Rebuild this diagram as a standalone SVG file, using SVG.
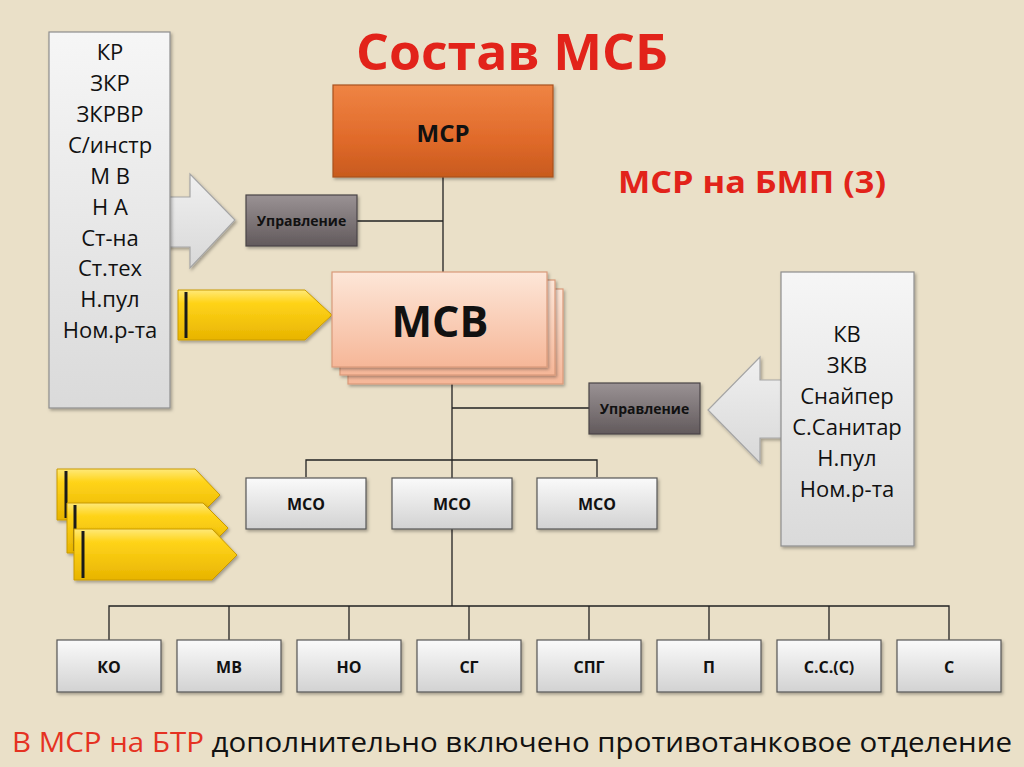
<svg xmlns="http://www.w3.org/2000/svg" width="1024" height="767" viewBox="0 0 1024 767">
<defs>
<linearGradient id="gGray" x1="0" y1="0" x2="0" y2="1"><stop offset="0" stop-color="#FAFAFA"/><stop offset="1" stop-color="#D2D2D2"/></linearGradient>
<linearGradient id="gList" x1="0" y1="0" x2="0" y2="1"><stop offset="0" stop-color="#F6F6F6"/><stop offset="1" stop-color="#DADADA"/></linearGradient>
<linearGradient id="gArrow" x1="0" y1="0" x2="0" y2="1"><stop offset="0" stop-color="#F0F0F0"/><stop offset="1" stop-color="#D8D8D8"/></linearGradient>
<linearGradient id="gOrange" x1="0" y1="0" x2="0" y2="1"><stop offset="0" stop-color="#EF8444"/><stop offset="0.6" stop-color="#E06A2A"/><stop offset="1" stop-color="#C85A1E"/></linearGradient>
<linearGradient id="gPeach" x1="0" y1="0" x2="0" y2="1"><stop offset="0" stop-color="#FDE6D8"/><stop offset="1" stop-color="#F6B798"/></linearGradient>
<linearGradient id="gDark" x1="0" y1="0" x2="0" y2="1"><stop offset="0" stop-color="#9A9294"/><stop offset="1" stop-color="#625A5C"/></linearGradient>
<linearGradient id="gYellow" x1="0" y1="0" x2="0" y2="1"><stop offset="0" stop-color="#FFE978"/><stop offset="0.25" stop-color="#FFD41A"/><stop offset="1" stop-color="#E8B400"/></linearGradient>
<filter id="sh" x="-10%" y="-10%" width="130%" height="130%"><feDropShadow dx="1.5" dy="2" stdDeviation="1.5" flood-color="#000" flood-opacity="0.3"/></filter>
</defs>
<style>
.t{font-family:"Open Sans","Noto Sans",sans-serif;fill:#111}
.b{font-weight:bold}
.box{fill:url(#gGray);stroke:#555;stroke-width:1.2}
.lst{fill:url(#gList);stroke:#8E8E8E;stroke-width:1.2}
.arr{fill:url(#gArrow);stroke:#A5A5A5;stroke-width:1.2}
.yel{fill:url(#gYellow);stroke:#C99A00;stroke-width:1}
.dark{fill:url(#gDark);stroke:#4A4446;stroke-width:1.2}
.ln{stroke:#222;stroke-width:1.3;fill:none}
.bar{stroke:#1a1a1a;stroke-width:3}
</style>
<rect width="1024" height="767" fill="#EAE0C8"/>
<text class="t b" x="512" y="70" font-size="50" text-anchor="middle" style="fill:#E2231A" textLength="312" lengthAdjust="spacingAndGlyphs">Состав МСБ</text>
<text class="t b" x="752" y="193" font-size="30" text-anchor="middle" style="fill:#E2231A" textLength="268" lengthAdjust="spacingAndGlyphs">МСР на БМП (3)</text>

<g id="connectors">
<path class="ln" d="M443 177 V272 M357 221 H443"/>
<path class="ln" d="M452 384 V606 M452 408 H589 M306 477 V460 H597 V477"/>
<path class="ln" d="M109 640 V606 H949 V640 M229 606 V640 M349 606 V640 M469 606 V640 M589 606 V640 M709 606 V640 M829 606 V640"/>
</g>

<g id="left-arrow"><path class="arr" filter="url(#sh)" d="M168 197 H190 V174 L235 220 L190 268 V247 H168 Z"/></g>
<g id="left-list">
<rect class="lst" x="49" y="32" width="121" height="376" filter="url(#sh)"/>
<g class="t" font-size="22" text-anchor="middle">
<text x="110" y="60">КР</text>
<text x="110" y="91">ЗКР</text>
<text x="110" y="122">ЗКРВР</text>
<text x="110" y="153">С/инстр</text>
<text x="110" y="184">М В</text>
<text x="110" y="215">Н А</text>
<text x="110" y="246">Ст-на</text>
<text x="110" y="276">Ст.тех</text>
<text x="110" y="307">Н.пул</text>
<text x="110" y="338">Ном.р-та</text>
</g>
</g>

<g id="msr"><rect x="333" y="85" width="220" height="92" fill="url(#gOrange)" stroke="#A9521F" stroke-width="1.2" filter="url(#sh)"/>
<text class="t b" x="443" y="142" font-size="24" text-anchor="middle">МСР</text></g>

<g id="upr1"><rect class="dark" x="246" y="195" width="111" height="51" filter="url(#sh)"/>
<text class="t b" x="301.5" y="226" font-size="14" text-anchor="middle">Управление</text></g>

<g id="yellow1"><path class="yel" filter="url(#sh)" d="M178 290 H305 L332 315 L305 340 H178 Z"/><line class="bar" x1="186" y1="292" x2="186" y2="338"/></g>

<g id="msv">
<rect x="348" y="289" width="215" height="95" fill="url(#gPeach)" stroke="#D99A7A" stroke-width="1.2" filter="url(#sh)"/>
<rect x="340" y="280" width="215" height="95" fill="url(#gPeach)" stroke="#D99A7A" stroke-width="1.2" filter="url(#sh)"/>
<rect x="332" y="272" width="215" height="95" fill="url(#gPeach)" stroke="#D99A7A" stroke-width="1.2" filter="url(#sh)"/>
<text class="t b" x="440" y="337" font-size="43" text-anchor="middle">МСВ</text>
</g>

<g id="upr2"><rect class="dark" x="589" y="383" width="111" height="51" filter="url(#sh)"/>
<text class="t b" x="644.5" y="414" font-size="14" text-anchor="middle">Управление</text></g>

<g id="right-arrow"><path class="arr" filter="url(#sh)" d="M783 380 H760 V357 L708 410 L760 463 V438 H783 Z"/></g>
<g id="right-list">
<rect class="lst" x="781" y="272" width="133" height="274" filter="url(#sh)"/>
<g class="t" font-size="22" text-anchor="middle">
<text x="847" y="342">КВ</text>
<text x="847" y="373">ЗКВ</text>
<text x="847" y="404">Снайпер</text>
<text x="847" y="435">С.Санитар</text>
<text x="847" y="466">Н.пул</text>
<text x="847" y="497">Ном.р-та</text>
</g>
</g>

<g id="mso1"><rect class="box" x="246" y="478" width="120" height="51" filter="url(#sh)"/><text class="t b" x="306" y="510" font-size="16" text-anchor="middle">МСО</text></g>
<g id="mso2"><rect class="box" x="392" y="478" width="120" height="51" filter="url(#sh)"/><text class="t b" x="452" y="510" font-size="16" text-anchor="middle">МСО</text></g>
<g id="mso3"><rect class="box" x="537" y="478" width="120" height="51" filter="url(#sh)"/><text class="t b" x="597" y="510" font-size="16" text-anchor="middle">МСО</text></g>

<g id="yellow-stack">
<path class="yel" filter="url(#sh)" d="M57 469 H195 L220 495 L195 520 H57 Z"/><line class="bar" x1="66" y1="471" x2="66" y2="518"/>
<path class="yel" filter="url(#sh)" d="M67 503 H203 L228 528 L203 553 H67 Z"/><line class="bar" x1="75" y1="505" x2="75" y2="551"/>
<path class="yel" filter="url(#sh)" d="M74 529 H212 L237 555 L212 580 H74 Z"/><line class="bar" x1="83" y1="531" x2="83" y2="578"/>
</g>

<g id="ko"><rect class="box" x="57" y="640" width="104" height="52" filter="url(#sh)"/><text class="t b" x="109" y="673" font-size="16" text-anchor="middle">КО</text></g>
<g id="mv"><rect class="box" x="177" y="640" width="104" height="52" filter="url(#sh)"/><text class="t b" x="229" y="673" font-size="16" text-anchor="middle">МВ</text></g>
<g id="no"><rect class="box" x="297" y="640" width="104" height="52" filter="url(#sh)"/><text class="t b" x="349" y="673" font-size="16" text-anchor="middle">НО</text></g>
<g id="sg"><rect class="box" x="417" y="640" width="104" height="52" filter="url(#sh)"/><text class="t b" x="469" y="673" font-size="16" text-anchor="middle">СГ</text></g>
<g id="spg"><rect class="box" x="537" y="640" width="104" height="52" filter="url(#sh)"/><text class="t b" x="589" y="673" font-size="16" text-anchor="middle">СПГ</text></g>
<g id="p"><rect class="box" x="657" y="640" width="104" height="52" filter="url(#sh)"/><text class="t b" x="709" y="673" font-size="16" text-anchor="middle">П</text></g>
<g id="ssc"><rect class="box" x="777" y="640" width="104" height="52" filter="url(#sh)"/><text class="t b" x="829" y="673" font-size="16" text-anchor="middle">С.С.(С)</text></g>
<g id="s"><rect class="box" x="897" y="640" width="104" height="52" filter="url(#sh)"/><text class="t b" x="949" y="673" font-size="16" text-anchor="middle">С</text></g>

<text class="t" x="12" y="752" font-size="28" textLength="1000" lengthAdjust="spacingAndGlyphs"><tspan style="fill:#E53222">В МСР на БТР</tspan> дополнительно включено противотанковое отделение</text>
</svg>
